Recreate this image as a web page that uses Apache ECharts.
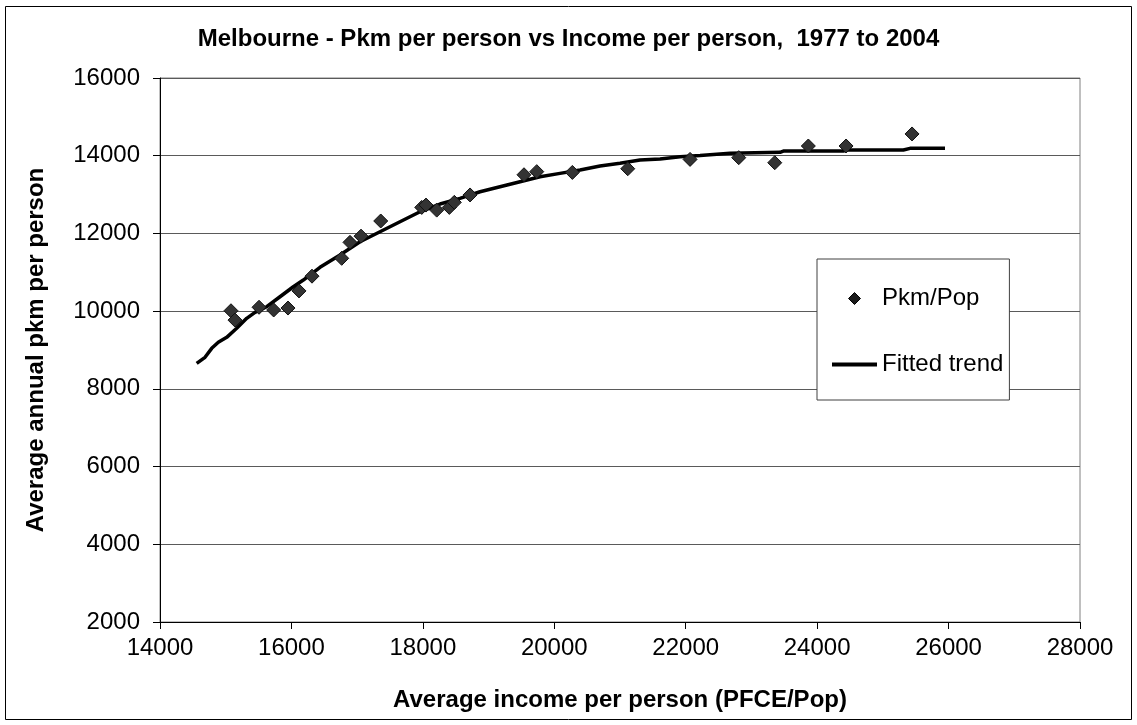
<!DOCTYPE html>
<html>
<head>
<meta charset="utf-8">
<script src="https://cdn.jsdelivr.net/npm/echarts@6/dist/echarts.min.js"></script>
<style>
html,body{margin:0;padding:0;background:#fff;}
#chart{width:1137px;height:725px;}
</style>
</head>
<body>
<div id="chart"></div>
<script>
// Observed data: income per person (x) vs pkm per person (y)
const pkmIncome = [15080, 15141, 15507, 15730, 15948, 16115, 16313, 16765, 16891, 17059,
  17359, 17983, 18048, 18211, 18403, 18479, 18718, 19539, 19733, 20275,
  21118, 22066, 22807, 23355, 23866, 24440, 25444];
const pkmValues = [10010, 9770, 10100, 10030, 10080, 10520, 10900, 11360, 11770, 11930,
  12320, 12670, 12730, 12600, 12670, 12800, 12990, 13510, 13590, 13570,
  13665, 13905, 13950, 13820, 14250, 14250, 14560];

// Fitted trend
const trendIncome = [14558, 14685, 14787, 14887, 15015, 15167, 15319, 15446, 15624, 15826,
  16029, 16181, 16435, 16739, 17044, 17348, 17652, 17957, 18261, 18565,
  18870, 19174, 19479, 19783, 20087, 20392, 20696, 21000, 21305, 21609,
  21914, 22218, 22674, 23435, 23486, 24399, 24451, 25312, 25414, 25946];
const trendValues = [8657, 8812, 9043, 9198, 9326, 9558, 9815, 9970, 10114, 10371,
  10628, 10801, 11128, 11444, 11786, 12044, 12301, 12558, 12756, 12903,
  13073, 13202, 13331, 13459, 13546, 13631, 13734, 13804, 13889, 13915,
  13974, 14005, 14061, 14087, 14120, 14120, 14146, 14146, 14190, 14190];

const titleText = 'Melbourne - Pkm per person vs Income per person,  1977 to 2004';
const xName = 'Average income per person (PFCE/Pop)';
const yName = 'Average annual pkm per person';
const seriesNames = ['Pkm/Pop', 'Fitted trend'];

const FONT = '"Liberation Sans", Arial, sans-serif';
const chart = echarts.init(document.getElementById('chart'));
chart.setOption({
  animation: false,
  backgroundColor: '#ffffff',
  textStyle: { fontFamily: FONT, color: '#000' },
  title: {
    text: titleText,
    left: 'center',
    top: 22,
    textStyle: { fontFamily: FONT, fontSize: 24, fontWeight: 'bold', color: '#000' }
  },
  grid: { left: 160, right: 57, top: 78, bottom: 103, show: true, borderColor: '#808080', borderWidth: 1 },
  legend: {
    orient: 'vertical',
    left: 817,
    top: 259,
    padding: [26, 6, 22, 15],
    itemGap: 39,
    itemWidth: 45,
    itemHeight: 12,
    itemTextGap: 5,
    backgroundColor: '#fff',
    borderColor: '#404040',
    borderWidth: 1,
    borderRadius: 0,
    textStyle: { fontFamily: FONT, fontSize: 24, color: '#000', lineHeight: 27 },
    data: [
      { name: seriesNames[0], icon: 'path://M6,0L12,6L6,12L0,6Z', itemStyle: { color: '#1a1a1a', borderColor: '#000', borderWidth: 1 } },
      { name: seriesNames[1], icon: 'path://M0,0L45,0L45,4L0,4Z', itemStyle: { color: '#000', borderWidth: 0 } }
    ]
  },
  xAxis: {
    type: 'value',
    min: 14000, max: 28000, interval: 2000,
    name: xName,
    nameLocation: 'middle',
    nameGap: 66,
    nameTextStyle: { fontFamily: FONT, fontSize: 24, fontWeight: 'bold', color: '#000' },
    axisLine: { show: true, onZero: false, lineStyle: { color: '#000', width: 1 } },
    axisTick: { show: true, inside: false, length: 7, lineStyle: { color: '#000' } },
    axisLabel: { margin: 14, fontFamily: FONT, fontSize: 24, color: '#000', formatter: v => String(v) },
    splitLine: { show: false }
  },
  yAxis: {
    type: 'value',
    min: 2000, max: 16000, interval: 2000,
    name: yName,
    nameLocation: 'middle',
    nameGap: 112,
    nameRotate: 90,
    nameTextStyle: { fontFamily: FONT, fontSize: 24, fontWeight: 'bold', color: '#000' },
    axisLine: { show: true, onZero: false, lineStyle: { color: '#000', width: 1 } },
    axisTick: { show: true, inside: false, length: 7, lineStyle: { color: '#000' } },
    axisLabel: { margin: 20, fontFamily: FONT, fontSize: 24, color: '#000', formatter: v => String(v) },
    splitLine: { show: true, lineStyle: { color: '#5a5a5a', width: 1 } }
  },
  graphic: [{
    type: 'rect',
    shape: { x: 5.5, y: 6.5, width: 1126, height: 713 },
    style: { fill: 'none', stroke: '#000', lineWidth: 1 },
    silent: true, z: -1
  }],
  series: [
    {
      name: seriesNames[0],
      type: 'scatter',
      symbol: 'diamond',
      symbolSize: 14,
      itemStyle: { color: '#333333', borderColor: '#111', borderWidth: 1, opacity: 1 },
      data: pkmIncome.map((x, i) => [x, pkmValues[i]]),
      z: 3
    },
    {
      name: seriesNames[1],
      type: 'line',
      symbol: 'none',
      smooth: false,
      lineStyle: { color: '#000', width: 3.5 },
      itemStyle: { color: '#000' },
      data: trendIncome.map((x, i) => [x, trendValues[i]]),
      z: 2
    }
  ]
});
</script>
</body>
</html>
